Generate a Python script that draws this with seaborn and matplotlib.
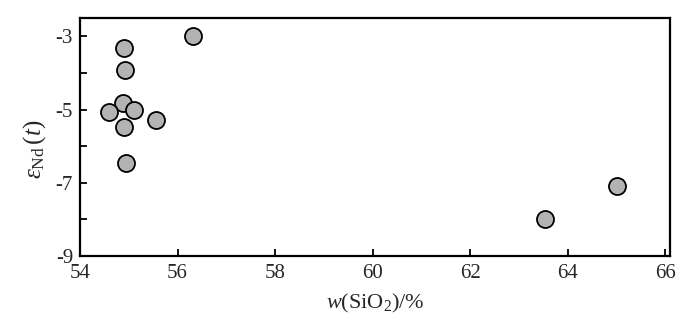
import numpy as np
import pandas as pd
import seaborn as sns
import matplotlib.pyplot as plt
from matplotlib.ticker import MultipleLocator

# values
sio2 = [56.31, 54.91, 54.92, 54.88, 54.59, 55.11, 54.91, 55.56, 54.94, 63.54, 65.02]
eps_nd = [-3.0, -3.31, -3.92, -4.82, -5.07, -5.0, -5.48, -5.28, -6.45, -8.0, -7.1]

df = pd.DataFrame({'SiO2': sio2, 'eNd': eps_nd})

sns.set_style('ticks')
plt.rcParams['font.family'] = ['Liberation Serif', 'DejaVu Serif']
plt.rcParams['mathtext.fontset'] = 'custom'
plt.rcParams['mathtext.rm'] = 'Liberation Serif'
plt.rcParams['mathtext.it'] = 'Liberation Serif:italic'
plt.rcParams['axes.unicode_minus'] = False

fig = plt.figure(figsize=(7, 3.23), dpi=100)
ax = fig.add_axes([80 / 700, 1 - 256 / 323, 590 / 700, 238 / 323])

sns.scatterplot(data=df, x='SiO2', y='eNd', ax=ax, s=150,
                color='#b3b3b3', edgecolor='black', linewidth=1.3, zorder=3)

ax.set_xlim(54, 66.1)
ax.set_ylim(-9, -2.5)
ax.set_xticks(np.arange(54, 67, 2))
ax.set_yticks([-3, -5, -7, -9])
ax.yaxis.set_minor_locator(MultipleLocator(1))
ax.tick_params(axis='both', which='both', direction='in', length=5, width=1.3,
               labelsize=15, color='black')
ax.tick_params(axis='x', pad=6)
ax.tick_params(axis='y', pad=5)

for sp in ax.spines.values():
    sp.set_linewidth(1.6)
    sp.set_color('black')
    sp.set_visible(True)

ax.set_xlabel(r'$w$(SiO$_2$)/%', fontsize=16, labelpad=6)
ax.set_ylabel(r'$\varepsilon_{\mathrm{Nd}}\,(t)$', fontsize=18, labelpad=4)
ax.yaxis.set_label_coords(-0.055, 0.45)

fig.savefig('out.png', dpi=100)
